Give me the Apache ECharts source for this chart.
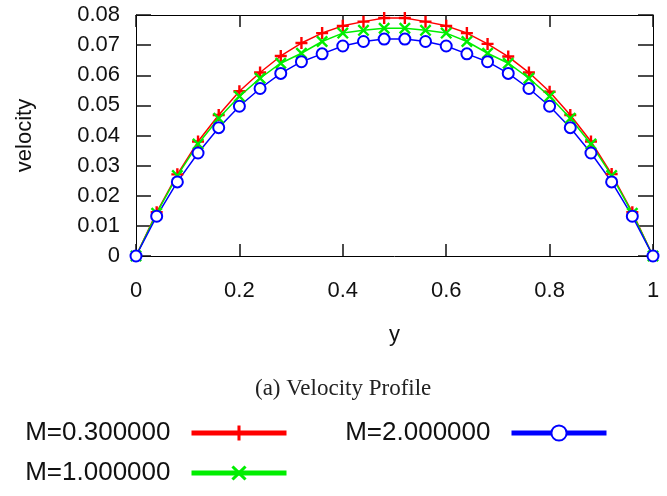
<!DOCTYPE html>
<html>
<head>
<meta charset="utf-8">
<script src="https://cdn.jsdelivr.net/npm/echarts@6/dist/echarts.min.js"></script>
<style>
  html, body { margin: 0; padding: 0; background: #fff; }
  #chart { width: 667px; height: 496px; }
</style>
</head>
<body>
<div id="chart"></div>
<script>
// channel position y and velocity for each Hartmann number M
const yPos = [0, 0.04, 0.08, 0.12, 0.16, 0.2, 0.24, 0.28, 0.32, 0.36, 0.4, 0.44, 0.48,
  0.52, 0.56, 0.6, 0.64, 0.68, 0.72, 0.76, 0.8, 0.84, 0.88, 0.92, 0.96, 1];
const velM03 = [0, 0.0145, 0.0271, 0.0380, 0.0468, 0.0547, 0.0609, 0.0664, 0.0707, 0.0740, 0.0764, 0.0778, 0.0790,
  0.0790, 0.0778, 0.0764, 0.0740, 0.0704, 0.0662, 0.0609, 0.0545, 0.0468, 0.0380, 0.0272, 0.0145, 0];
const velM1 = [0, 0.0142, 0.0267, 0.0372, 0.0457, 0.0530, 0.0590, 0.0640, 0.0673, 0.0712, 0.0740, 0.0749, 0.0756,
  0.0756, 0.0749, 0.0740, 0.0712, 0.0673, 0.0640, 0.0590, 0.0530, 0.0457, 0.0372, 0.0267, 0.0142, 0];
const velM2 = [0, 0.0132, 0.0246, 0.0342, 0.0426, 0.0497, 0.0556, 0.0606, 0.0645, 0.0671, 0.0697, 0.0712, 0.0720,
  0.0720, 0.0712, 0.0697, 0.0671, 0.0645, 0.0606, 0.0556, 0.0497, 0.0426, 0.0342, 0.0246, 0.0132, 0];
const seriesNames = ['M=0.300000', 'M=1.000000', 'M=2.000000'];

const chart = echarts.init(document.getElementById('chart'));
const font = 'Liberation Sans';
const plusPath = 'path://M4,0H6V4H10V6H6V10H4V6H0V4H4Z';
const crossPath = 'path://M0,1.4L1.4,0L5,3.6L8.6,0L10,1.4L6.4,5L10,8.6L8.6,10L5,6.4L1.4,10L0,8.6L3.6,5Z';

const line = (name, vals, color, symbol, size) => ({
  name: name,
  type: 'line',
  data: yPos.map((y, i) => [y, vals[i]]),
  symbol: symbol,
  symbolSize: size,
  showSymbol: true,
  lineStyle: { color: color, width: 1.5 },
  itemStyle: { color: color, borderWidth: 1.5 },
  animation: false
});

// gnuplot-style box: each side its own axis with inward ticks
const boxAxis = (pos, tickLen, extra) => Object.assign({
  type: 'value',
  position: pos,
  axisLine: { show: true, onZero: false, lineStyle: { color: '#000', width: 1 } },
  axisTick: { show: true, inside: true, length: tickLen, lineStyle: { color: '#111', width: 1.5 } },
  axisLabel: { show: false },
  splitLine: { show: false }
}, extra);

const legend = (names, right) => ({
  data: names,
  orient: 'vertical',
  right: right,
  top: 420,
  align: 'right',
  itemWidth: 95,
  itemHeight: 19,
  itemGap: 14,
  padding: 0,
  lineStyle: { width: 5 },
  textStyle: { fontFamily: font, fontSize: 26, color: '#111', padding: [0, 16, 0, 0] }
});

chart.setOption({
  animation: false,
  title: {
    text: '(a) Velocity Profile',
    left: 250,
    top: 372,
    textStyle: { fontFamily: 'Liberation Serif', fontSize: 23, fontWeight: 'normal', color: '#222' }
  },
  legend: [
    legend([seriesNames[0], seriesNames[1]], 378),
    legend([seriesNames[2]], 58)
  ],
  grid: { left: 136, right: 14, top: 15, bottom: 240 },
  xAxis: [
    boxAxis('bottom', 12, {
      min: 0, max: 1, interval: 0.2,
      name: 'y', nameLocation: 'middle', nameGap: 68,
      nameTextStyle: { fontFamily: font, fontSize: 22, color: '#111' },
      axisLabel: { show: true, margin: 24, fontFamily: font, fontSize: 22, color: '#111' }
    }),
    boxAxis('top', 12, { min: 0, max: 1, interval: 0.2 })
  ],
  yAxis: [
    boxAxis('left', 15, {
      min: 0, max: 0.08, interval: 0.01,
      name: 'velocity', nameLocation: 'middle', nameGap: 100,
      nameTextStyle: { fontFamily: font, fontSize: 22, color: '#111' },
      axisLabel: { show: true, margin: 16, fontFamily: font, fontSize: 22, color: '#111' }
    }),
    boxAxis('right', 15, { min: 0, max: 0.08, interval: 0.01 })
  ],
  series: [
    line(seriesNames[0], velM03, '#ff0000', plusPath, 12),
    line(seriesNames[1], velM1, '#00ee00', crossPath, 12),
    line(seriesNames[2], velM2, '#0000ff', 'emptyCircle', 11)
  ]
});
</script>
</body>
</html>
